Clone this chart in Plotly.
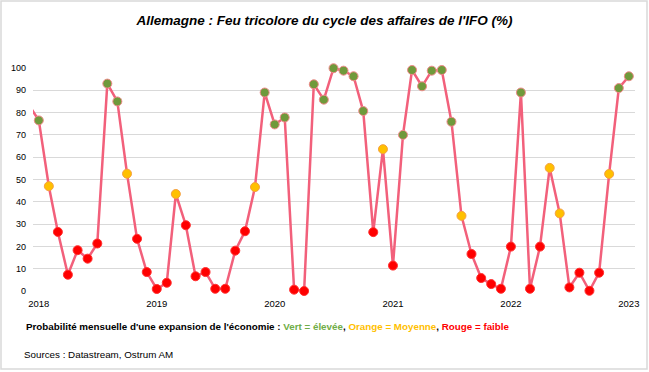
import plotly.graph_objects as go

months = ["2017-12-01"] + [f"{y}-{m:02d}-01" for y in range(2018, 2023) for m in range(1, 13)] + ["2023-01-01"]
values = [83.5,
          76.5, 47, 26.5, 7.3, 18.3, 14.5, 21.3, 93, 85, 52.6, 23.4, 8.5,
          0.9, 3.7, 43.5, 29.5, 6.6, 8.5, 1.0, 1.0, 18.1, 26.8, 46.6, 89,
          74.7, 77.8, 0.6, 0, 92.7, 85.8, 99.9, 98.8, 96.3, 80.7, 26.4, 63.6,
          11.4, 70, 99.1, 91.8, 98.8, 99.1, 75.9, 33.7, 16.6, 5.8, 3.1, 1.0,
          19.9, 89, 1.0, 19.9, 55.2, 34.8, 1.6, 8.2, 0.1, 8.2, 52.5, 91,
          96.3]
tick_vals = ["2018-01-01", "2019-01-01", "2020-01-01", "2021-01-01", "2022-01-01", "2023-01-01"]
tick_text = ["2018", "2019", "2020", "2021", "2022", "2023"]

GREEN, ORANGE, RED = "#6F9A3B", "#FFC000", "#FF0000"
LINE = "#F2607B"

def colour(v):
    if v < 31:
        return RED
    if v < 66:
        return ORANGE
    return GREEN

marker_cols = [colour(v) for v in values]
border_cols = ["#F08A8A" if c == GREEN else ("#F5A040" if c == ORANGE else "#FF3030") for c in marker_cols]

fig = go.Figure()
fig.add_trace(go.Scatter(
    x=months, y=values, mode="lines",
    line=dict(color=LINE, width=2.5),
    hoverinfo="skip", cliponaxis=True,
))
fig.add_trace(go.Scatter(
    x=months[1:], y=values[1:], mode="markers",
    marker=dict(size=9, color=marker_cols[1:], line=dict(color=border_cols[1:], width=1)),
    cliponaxis=False,
))

FONT = "Liberation Sans, Arial, sans-serif"

L, R, T, B = 33, 14, 68, 81
W, H = 649, 372
pw, ph = W - L - R, H - T - B

fig.update_layout(
    width=W, height=H,
    margin=dict(l=L, r=R, t=T, b=B, autoexpand=False),
    paper_bgcolor="white", plot_bgcolor="white",
    showlegend=False,
    font=dict(family=FONT, size=9, color="#000000"),
    title=dict(text="<b><i>Allemagne : Feu tricolore du cycle des affaires de l'IFO (%)</i></b>",
               x=0.5, xanchor="center", y=1 - 20 / H, yanchor="middle",
               font=dict(family=FONT, size=13.5, color="#000000")),
    xaxis=dict(range=["2017-12-14", "2023-01-20"], tickvals=tick_vals, ticktext=tick_text,
               showgrid=False, showline=False, zeroline=False, ticks="", automargin=False,
               ticklabelstandoff=5,
               tickfont=dict(size=9.5, color="#000000")),
    yaxis=dict(range=[0, 100], tickvals=list(range(0, 101, 10)), showgrid=True,
               gridcolor="#D9D9D9", gridwidth=1, zeroline=False, showline=False, ticks="",
               automargin=False, ticklabelstandoff=6,
               tickfont=dict(size=9, color="#000000")),
)

fig.add_annotation(
    xref="paper", yref="paper", x=(24 - L) / pw, y=(291 - 326) / ph,
    xanchor="left", yanchor="middle", showarrow=False,
    text=("<b>Probabilité mensuelle d'une expansion de l'économie : "
          f"<span style='color:#70AD47'>Vert = élevée</span>, "
          f"<span style='color:#FFC000'>Orange = Moyenne</span>, "
          f"<span style='color:#FF0000'>Rouge = faible</span></b>"),
    font=dict(family=FONT, size=9.8, color="#000000"),
)
fig.add_annotation(
    xref="paper", yref="paper", x=(22 - L) / pw, y=(291 - 354) / ph,
    xanchor="left", yanchor="middle", showarrow=False,
    text="Sources : Datastream, Ostrum AM",
    font=dict(family=FONT, size=9.8, color="#000000"),
)
fig.add_shape(
    type="rect", xref="paper", yref="paper",
    x0=(1 - L) / pw, x1=(647 - L) / pw, y0=(ph + T - 369) / ph, y1=(ph + T - 1) / ph,
    line=dict(color="#D9D9D9", width=1.5), fillcolor="rgba(0,0,0,0)", layer="below",
)

fig.write_html("out.html", config={"displayModeBar": False},
               post_script="document.body.style.margin='0';")
